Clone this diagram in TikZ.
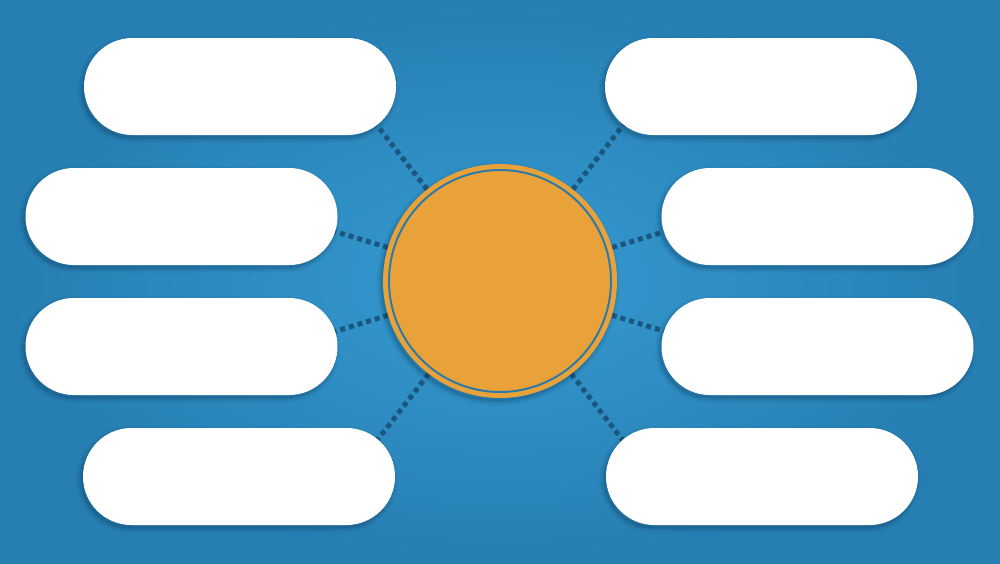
\documentclass[tikz,border=0pt]{standalone}
\usetikzlibrary{shapes.misc}
\definecolor{bgin}{RGB}{54,155,210}
\definecolor{bgout}{RGB}{38,126,178}
\definecolor{orangec}{RGB}{233,162,58}
\definecolor{ringc}{RGB}{44,122,168}
\definecolor{dashc}{RGB}{26,86,126}
\definecolor{shadowc}{RGB}{10,50,80}
\tikzset{
  softshadow/.style={
    preaction={draw=shadowc, line width=10pt, opacity=0.05, transform canvas={shift={(-2pt,-3pt)}}},
    preaction={draw=shadowc, line width=6pt, opacity=0.07, transform canvas={shift={(-2pt,-3pt)}}},
    preaction={draw=shadowc, line width=3pt, opacity=0.10, transform canvas={shift={(-2pt,-3pt)}}},
    preaction={fill=shadowc, opacity=0.15, transform canvas={shift={(-2pt,-3pt)}}}},
  pill/.style={rectangle, rounded corners=48.5pt, minimum width=312pt, minimum height=97pt,
    fill=white, inner sep=0pt, softshadow},
  hub/.style={circle, minimum size=234pt, inner sep=0pt, outer sep=0pt, fill=orangec, softshadow},
  conn/.style={draw=dashc, line width=5pt, dash pattern=on 5pt off 4pt}
}
\begin{document}
\begin{tikzpicture}[x=1pt,y=-1pt]
\useasboundingbox (0,0) rectangle (1000,563);
\shade[inner color=bgin, outer color=bgout] (0,0) rectangle (1000,563);
% connector start points (behind pills)
\coordinate (sl1) at (372,119);
\coordinate (sl2) at (330,230);
\coordinate (sl3) at (330,333);
\coordinate (sl4) at (372,447);
\coordinate (sr1) at (628,119);
\coordinate (sr2) at (670,230);
\coordinate (sr3) at (670,333);
\coordinate (sr4) at (628,447);
\coordinate (cc) at (500,281);
% connectors, ending at the hub border
\draw[conn] ([shift={(127.6:-117pt)}]cc) -- (sl1);
\draw[conn] ([shift={(163:-117pt)}]cc) -- (sl2);
\draw[conn] ([shift={(197:-117pt)}]cc) -- (sl3);
\draw[conn] ([shift={(232:-117pt)}]cc) -- (sl4);
\draw[conn] ([shift={(52.4:-117pt)}]cc) -- (sr1);
\draw[conn] ([shift={(17:-117pt)}]cc) -- (sr2);
\draw[conn] ([shift={(-17:-117pt)}]cc) -- (sr3);
\draw[conn] ([shift={(-52:-117pt)}]cc) -- (sr4);
% pills
\node[pill] (l1) at (240,86.5) {};
\node[pill] (l2) at (181.5,216.5) {};
\node[pill] (l3) at (181.5,346.5) {};
\node[pill] (l4) at (239,476.5) {};
\node[pill] (r1) at (761,86.5) {};
\node[pill] (r2) at (817.5,216.5) {};
\node[pill] (r3) at (817.5,346.5) {};
\node[pill] (r4) at (762,476.5) {};
% hub
\node[hub] (c) at (cc) {};
\draw[ringc, line width=2pt] (c.center) circle[radius=111pt];
\end{tikzpicture}
\end{document}
